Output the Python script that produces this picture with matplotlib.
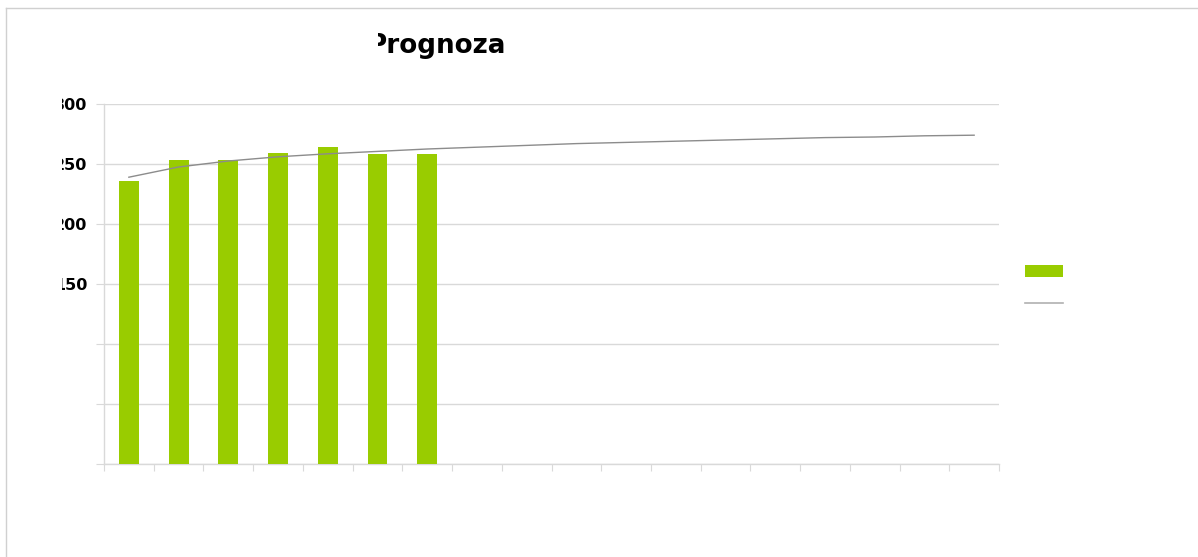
import numpy as np
import matplotlib
matplotlib.use("Agg")
import matplotlib.pyplot as plt
from matplotlib.patches import Patch
from matplotlib.lines import Line2D
from matplotlib.transforms import Bbox, TransformedBbox

# values
bar_values = [236, 253, 253, 259, 264, 258, 258]
trend_values = [239, 247.5, 252.5, 256, 258.5, 260.5, 262.5, 264, 265.5,
                267, 268, 269, 270, 271, 272, 272.5, 273.5, 274]
n_cat = 18
ytick_values = [0, 50, 100, 150, 200, 250, 300]
ytick_labels = ["", "", "", "150", "200", "250", "300"]
title = "Prognoza"

bar_color = "#99cc00"
line_color = "#8c8c8c"
grid_color = "#d9d9d9"

W, H = 1198, 557
fig = plt.figure(figsize=(W / 100, H / 100), dpi=100)
ax = fig.add_axes([104 / W, 1 - 464 / H, 895 / W, 360 / H])

x_bar = np.arange(len(bar_values))
x_line = np.arange(len(trend_values))
ax.bar(x_bar, bar_values, width=0.4, color=bar_color, zorder=3)
ax.plot(x_line, trend_values, color=line_color, lw=1.0, zorder=4)

ax.set_xlim(-0.5, n_cat - 0.5)
ax.set_ylim(0, 300)
ax.set_yticks(ytick_values)
ax.set_yticklabels(ytick_labels, fontsize=11.5, fontweight="bold")
ax.set_xticks(np.arange(n_cat + 1) - 0.5)
ax.set_xticklabels([])
ax.yaxis.grid(True, color=grid_color, lw=1.0, zorder=0)

for s in ("top", "right"):
    ax.spines[s].set_visible(False)
for s in ("left", "bottom"):
    ax.spines[s].set_color(grid_color)
    ax.spines[s].set_linewidth(1.0)
ax.tick_params(axis="y", length=6, color=grid_color, pad=6)
ax.tick_params(axis="x", length=5, color=grid_color)

# legend without text, as in the reference
handles = [Patch(facecolor=bar_color, edgecolor="none"),
           Line2D([], [], color="#b0b0b0", lw=1.2)]
fig.legend(handles, [" ", " "], loc="upper left",
           bbox_to_anchor=(1025 / W, 1 - 265 / H), frameon=False,
           fontsize=10, handlelength=2.7, handleheight=0.95,
           labelspacing=1.3, borderpad=0, borderaxespad=0, handletextpad=0.3)

t = fig.text(437 / W, 1 - 53 / H, title, ha="center", va="baseline",
             fontsize=18.8, fontweight="bold")

# outer frame (top and left only visible)
fig.add_artist(Line2D([6 / W, 6 / W], [0, 1 - 8 / H], color="#d0d0d0",
                      lw=1.0, transform=fig.transFigure))
fig.add_artist(Line2D([6 / W, 1], [1 - 8 / H, 1 - 8 / H], color="#d0d0d0",
                      lw=1.0, transform=fig.transFigure))

fig.canvas.draw()
# the reference cuts off the left edge of the title and the y labels
t.set_clip_box(TransformedBbox(Bbox.from_extents(378 / W, 0, 1, 1), fig.transFigure))
t.set_clip_on(True)
for lab in ax.get_yticklabels():
    lab.set_clip_box(TransformedBbox(Bbox.from_extents(62 / W, 0, 1, 1), fig.transFigure))
    lab.set_clip_on(True)

fig.savefig("out.png", dpi=100)
